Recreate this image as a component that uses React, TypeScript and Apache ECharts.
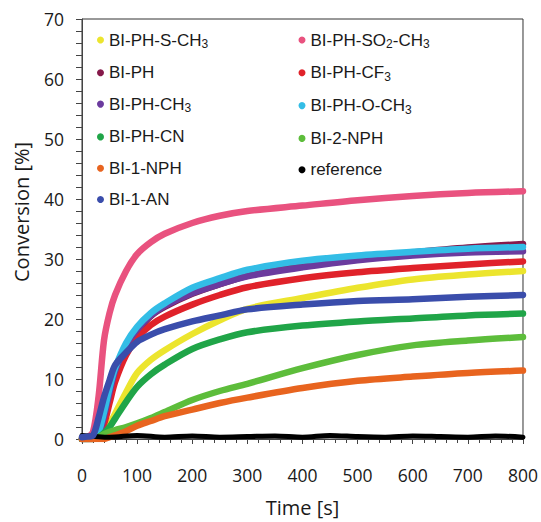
import React, { useEffect, useRef } from "react";
import * as echarts from "echarts";

const times = [0, 10, 20, 30, 40, 50, 60, 80, 100, 125, 150, 200, 250, 300, 400, 500, 600, 700, 800];

const sCH3 = [0, 0, 0, 0.3, 1.2, 2.5, 4.2, 7.8, 11, 13.2, 14.8, 17.5, 19.8, 21.7, 23.5, 25.2, 26.6, 27.4, 28];
const so2CH3 = [0, 0.3, 1.2, 7, 16.5, 21, 24, 28, 30.8, 32.8, 34.2, 36, 37.2, 38, 38.9, 39.8, 40.5, 41, 41.3];
const ph = [0, 0, 0, 0.8, 3.5, 7.5, 11, 15.5, 18, 20.5, 22, 24.2, 25.8, 27.2, 28.9, 30.2, 31.1, 31.9, 32.5];
const cf3 = [0, 0, 0, 0.5, 2.5, 6, 9.5, 14, 16.8, 19, 20.4, 22.4, 24, 25.3, 26.8, 27.8, 28.5, 29.1, 29.6];
const phCH3 = [0, 0, 0, 0.8, 3.8, 7.8, 11.3, 15.6, 18.2, 20.6, 22.2, 24.3, 25.8, 27.1, 28.6, 29.8, 30.6, 31.1, 31.3];
const oCH3 = [0, 0, 0.3, 1.2, 4.5, 8.5, 11.8, 16, 18.7, 21, 22.6, 25.2, 26.8, 28.2, 29.7, 30.6, 31.2, 31.7, 32];
const phCN = [0, 0, 0, 0.3, 1, 2, 3.4, 6.2, 8.7, 10.8, 12.4, 15, 16.6, 17.8, 18.9, 19.6, 20.1, 20.6, 20.9];
const nph2 = [0, 0, 0, 0.3, 0.8, 1.2, 1.5, 2, 2.6, 3.5, 4.5, 6.5, 8, 9.2, 11.8, 14, 15.6, 16.4, 17];
const nph1 = [0, 0, 0, 0, 0, 0.3, 0.6, 1.3, 2.2, 3, 3.8, 4.9, 6, 6.9, 8.5, 9.7, 10.4, 11, 11.4];
const an1 = [0.3, 0.4, 0.6, 3.5, 7, 9.8, 12.3, 14.4, 16.2, 17.4, 18.3, 19.6, 20.6, 21.6, 22.4, 23, 23.3, 23.7, 24];

const refTimes = [0, 50, 100, 150, 200, 250, 300, 350, 400, 450, 500, 550, 600, 650, 700, 750, 800];
const reference = [0.6, 0.3, 0.6, 0.3, 0.5, 0.3, 0.4, 0.5, 0.3, 0.6, 0.4, 0.3, 0.5, 0.4, 0.3, 0.5, 0.3];

const xTicks = { min: 0, max: 800, interval: 100 };
const yTicks = { min: 0, max: 70, interval: 10 };

type S = { name: string; color: string; t: number[]; v: number[]; w: number };

const seriesDefs: S[] = [
  { name: "BI-PH-S-CH3", color: "#ece52e", t: times, v: sCH3, w: 6.5 },
  { name: "BI-PH-SO2-CH3", color: "#e9527f", t: times, v: so2CH3, w: 6.5 },
  { name: "BI-PH", color: "#86194a", t: times, v: ph, w: 6.5 },
  { name: "BI-PH-CF3", color: "#e0222a", t: times, v: cf3, w: 6.5 },
  { name: "BI-PH-CH3", color: "#6b3b9e", t: times, v: phCH3, w: 6.5 },
  { name: "BI-PH-O-CH3", color: "#33bde6", t: times, v: oCH3, w: 6.5 },
  { name: "BI-PH-CN", color: "#20a548", t: times, v: phCN, w: 6.5 },
  { name: "BI-2-NPH", color: "#5dbd3b", t: times, v: nph2, w: 6.5 },
  { name: "BI-1-NPH", color: "#e8641f", t: times, v: nph1, w: 6.5 },
  { name: "reference", color: "#000000", t: refTimes, v: reference, w: 5 },
  { name: "BI-1-AN", color: "#3a4dab", t: times, v: an1, w: 6.5 },
];

const leftLegend = ["BI-PH-S-CH3", "BI-PH", "BI-PH-CH3", "BI-PH-CN", "BI-1-NPH", "BI-1-AN"];
const rightLegend = ["BI-PH-SO2-CH3", "BI-PH-CF3", "BI-PH-O-CH3", "BI-2-NPH", "reference"];

const fmt = (name: string) => {
  const s = "{n|" + name.replace(/(CH|SO|CF)(\d)/g, "$1}{s|$2}{n|") + "}";
  return s.replace(/\{n\|\}/g, "");
};

const legendText = {
  rich: {
    n: { fontSize: 17, fontFamily: "Liberation Sans", color: "#1a1a1a", lineHeight: 20, verticalAlign: "middle" },
    s: { fontSize: 12, fontFamily: "Liberation Sans", color: "#1a1a1a", lineHeight: 12, verticalAlign: "bottom" },
  },
};

export default function App() {
  const ref = useRef<HTMLDivElement>(null);
  useEffect(() => {
    if (!ref.current) return;
    const chart = echarts.init(ref.current, undefined, { renderer: "svg" });
    const legendCommon = {
      orient: "vertical",
      icon: "circle",
      itemWidth: 7,
      itemHeight: 7,
      itemGap: 14.3,
      padding: 0,
      formatter: fmt,
      textStyle: legendText,
      selectedMode: false,
    };
    chart.setOption({
      animation: false,
      backgroundColor: "#ffffff",
      grid: { left: 82, right: 17, top: 19, bottom: 68, show: true, borderColor: "#333", borderWidth: 1, backgroundColor: "transparent" },
      legend: [
        { ...legendCommon, data: leftLegend, left: 97, top: 31.5 },
        { ...legendCommon, data: rightLegend, left: 298.5, top: 31.5 },
      ],
      xAxis: {
        type: "value",
        min: xTicks.min,
        max: xTicks.max,
        interval: xTicks.interval,
        name: "Time [s]",
        nameLocation: "middle",
        nameGap: 58,
        nameTextStyle: { fontFamily: "Open Sans", fontSize: 20, color: "#1a1a1a" },
        axisLine: { lineStyle: { color: "#444", width: 1 } },
        axisTick: { show: true, length: 5, lineStyle: { color: "#444" } },
        minorTick: { show: true, splitNumber: 5, length: 4, lineStyle: { color: "#444" } },
        splitLine: { show: false },
        axisLabel: { fontFamily: "Open Sans", fontSize: 17.5, color: "#1a1a1a", margin: 27 },
      },
      yAxis: {
        type: "value",
        min: yTicks.min,
        max: yTicks.max,
        interval: yTicks.interval,
        axisLine: { show: true, lineStyle: { color: "#444", width: 1 } },
        axisTick: { show: true, length: 6, lineStyle: { color: "#444" } },
        minorTick: { show: true, splitNumber: 5, length: 6, lineStyle: { color: "#444" } },
        splitLine: { show: false },
        axisLabel: { fontFamily: "Open Sans", fontSize: 17.5, color: "#1a1a1a", margin: 18 },
      },
      graphic: [
        {
          type: "text",
          x: 21.7,
          y: 212,
          rotation: Math.PI / 2,
          style: {
            text: "Conversion [%]",
            fontFamily: "Open Sans",
            fontSize: 20,
            fill: "#1a1a1a",
            textAlign: "center",
            textVerticalAlign: "middle",
          },
        },
      ],
      series: seriesDefs.map((d) => ({
        name: d.name,
        type: "line",
        data: d.t.map((t, i) => [t, d.v[i]]),
        showSymbol: false,
        smooth: 0.3,
        color: d.color,
        lineStyle: { width: d.w, color: d.color, cap: "round", join: "round" },
      })),
    });
    return () => chart.dispose();
  }, []);
  return (
    <div
      ref={ref}
      style={{ position: "fixed", left: 0, top: 0, width: 541, height: 522 }}
    />
  );
}
